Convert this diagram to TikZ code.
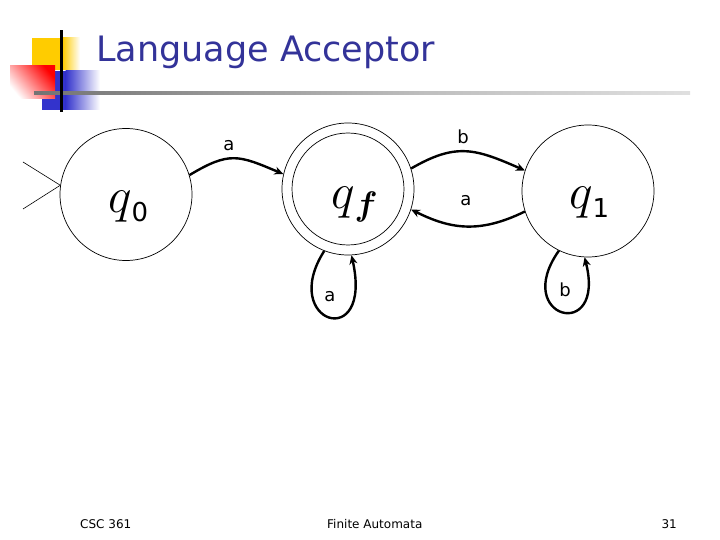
\documentclass[tikz,border=0pt]{standalone}
\usepackage{fix-cm}
\usepackage{amsmath,amssymb,bm}
\usepackage{fontspec}
\setmainfont{DejaVu Sans}
\usetikzlibrary{arrows.meta}
\definecolor{titleblue}{RGB}{51,51,153}
\definecolor{decoyellow}{RGB}{255,204,0}
\definecolor{decoblue}{RGB}{51,51,204}
\definecolor{decored}{RGB}{255,0,0}
\pgfdeclarehorizontalshading{ruleshade}{100bp}{color(0bp)=(black!85); color(15bp)=(black!65); color(55bp)=(black!25); color(85bp)=(black!6); color(100bp)=(white)}
\begin{document}
\begin{tikzpicture}[x=1pt,y=-1pt,
  state/.style={circle,draw,line width=0.7pt,minimum size=132pt,inner sep=0pt},
  innerstate/.style={circle,draw,line width=0.7pt,minimum size=112pt,inner sep=0pt},
  qlabel/.style={inner sep=0pt,font=\fontsize{50}{50}\selectfont},
  trans/.style={line width=2.4pt,-{Stealth[length=9pt,width=8pt]}},
  elabel/.style={inner sep=0pt,font=\fontsize{18}{18}\selectfont},
  foot/.style={inner sep=0pt,font=\fontsize{12}{12}\selectfont},
  startline/.style={line width=0.6pt}]
\useasboundingbox (0,0) rectangle (720,540);
% decoration
\fill[decoyellow] (32,38) rectangle (63,70);
\shade[left color=decoyellow,right color=white] (62.5,38) rectangle (80,70);
\fill[decoblue] (42,71) rectangle (66,110);
\shade[left color=decoblue,right color=white] (65.5,71) rectangle (100,110);
\shade[shading=axis,top color=decored,bottom color=white,shading angle=-50] (10,66) rectangle (55,99);
\shade[shading=ruleshade] (34,91.5) rectangle (690,94.5);
\fill[black] (59.5,30) rectangle (62.5,112);
% title
\node[anchor=base west,inner sep=0pt,text=titleblue,font=\fontsize{35}{35}\selectfont] (title) at (96,62) {Language Acceptor};
% states
\node[state] (q0) at (126,194.5) {};
\node[state] (qf) at (348,189) {};
\node[innerstate] (qfi) at (348,189) {};
\node[state] (q1) at (588,191) {};
\node[qlabel,anchor=base west] (l0) at (108,213) {$q$\fontsize{26}{26}\selectfont\raisebox{-9pt}{0}};
\node[qlabel,anchor=base west] (lf) at (331,208) {$q$\raisebox{-7pt}{\fontsize{34}{34}\selectfont$\bm{f}$}};
\node[qlabel,anchor=base west] (l1) at (569,209) {$q$\fontsize{26}{26}\selectfont\raisebox{-9pt}{1}};
% start arrow
\coordinate (s1) at (23,162);
\coordinate (s2) at (23,209);
\draw[startline] (s1) -- (q0.172);
\draw[startline] (s2) -- (q0.172);
% transitions
\draw[trans] (q0.17) .. controls +(40,-24) and +(-45,-19) .. (qf.167);
\draw[trans] (qf.18) .. controls +(45,-26) and +(-50,-22) .. (q1.162);
\draw[trans] (q1.198) .. controls +(-45,22) and +(40,20) .. (qf.-18);
\draw[trans] (qf.249) .. controls +(-46,72) and +(22,98) .. (qf.273);
\draw[trans] (q1.244) .. controls +(-48,68) and +(22,86) .. (q1.267);
% edge labels
\node[elabel] (ea1) at (229,146) {a};
\node[elabel] (eb1) at (463,137) {b};
\node[elabel] (ea2) at (466,201) {a};
\node[elabel] (ea3) at (330,297) {a};
\node[elabel] (eb2) at (565,290) {b};
% footer
\node[foot,anchor=base west] (f1) at (80,528) {CSC 361};
\node[foot,anchor=base west] (f2) at (327,528) {Finite Automata};
\node[foot,anchor=base east] (f3) at (677,528) {31};
\end{tikzpicture}
\end{document}
